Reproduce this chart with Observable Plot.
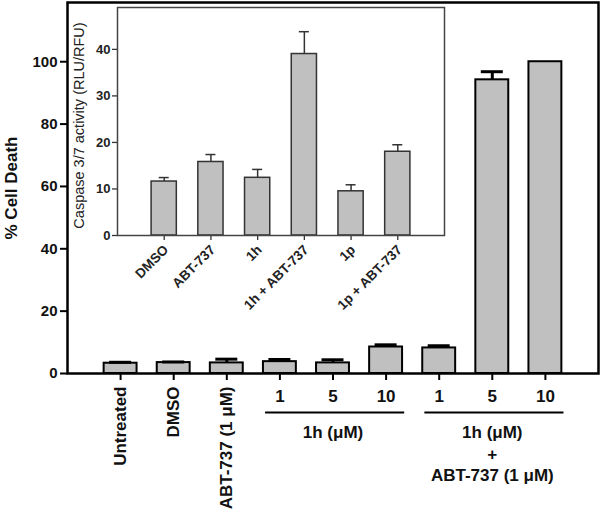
<!DOCTYPE html>
<html>
<head>
<meta charset="utf-8">
<script src="https://cdn.jsdelivr.net/npm/d3@7"></script>
<script src="https://cdn.jsdelivr.net/npm/@observablehq/plot@0.6"></script>
<style>
  body { margin: 0; background: #fff; }
  #wrap { position: relative; width: 600px; height: 516px; overflow: hidden; }
  #wrap svg { position: absolute; left: 0; top: 0; }
  .mainplot g[aria-label^="y-axis"] line, .mainplot g[aria-label^="y-axis"] path,
  .mainplot g[aria-label^="x-axis"] line, .mainplot g[aria-label^="x-axis"] path { stroke-width: 2px; stroke: #000; }
  .insetplot g[aria-label^="y-axis"] line, .insetplot g[aria-label^="y-axis"] path,
  .insetplot g[aria-label^="x-axis"] line, .insetplot g[aria-label^="x-axis"] path { stroke-width: 1.3px; stroke: #333; }
</style>
</head>
<body>
<div id="wrap"></div>
<script>
// ---- Main chart data ----
const mainCategories = ["Untreated", "DMSO", "ABT-737 (1 μM)", "1", "5", "10", "1", "5", "10"];
const mainValues = [3.3, 3.5, 3.4, 3.8, 3.4, 8.5, 8.2, 94.2, 100];
const mainErrors = [0.3, 0.2, 1.2, 0.7, 1.0, 0.7, 0.7, 2.6, 0];
const groupLabels = ["1h (μM)", "1h (μM)\n+\nABT-737 (1 μM)"];
const groupFirst = [3, 6];
const groupLast = [5, 8];
const mainYTicks = [0, 20, 40, 60, 80, 100];
const mainYLabel = "% Cell Death";

// ---- Inset data ----
const insetCategories = ["DMSO", "ABT-737", "1h", "1h + ABT-737", "1p", "1p + ABT-737"];
const insetValues = [11.6, 15.8, 12.4, 39.0, 9.5, 18.0];
const insetErrors = [0.85, 1.6, 1.8, 4.8, 1.4, 1.5];
const insetYTicks = [0, 10, 20, 30, 40];
const insetYLabel = "Caspase 3/7 activity (RLU/RFU)";

const FONT = "'Liberation Sans', Arial, Helvetica, sans-serif";

const mainData = mainCategories.map((c, i) => ({
  c, pos: i + 1, v: mainValues[i], e: mainErrors[i],
  grouped: groupFirst.some((f, g) => i >= f && i <= groupLast[g])
}));
const groups = groupLabels.map((label, g) => ({label, x1: groupFirst[g] + 1, x2: groupLast[g] + 1}));

const BW = 0.31, CAP = 0.207;
const main = Plot.plot({
  className: "mainplot",
  width: 600, height: 516,
  marginLeft: 67, marginRight: 2, marginTop: 2, marginBottom: 143,
  style: {fontFamily: FONT, fontSize: "15px", fontWeight: "bold", color: "#111", background: "transparent", overflow: "visible"},
  x: {domain: [0, mainCategories.length + 1], ticks: mainData.map(d => d.pos), tickFormat: () => "", tickSize: 7, label: null},
  y: {domain: [0, 119], ticks: mainYTicks, tickSize: 7, tickPadding: 3, label: null},
  marks: [
    Plot.rect(mainData, {x1: d => d.pos - BW, x2: d => d.pos + BW, y1: 0, y2: "v", fill: "#c0c0c0", stroke: "#000", strokeWidth: 2}),
    Plot.ruleX(mainData.filter(d => d.e > 0), {x: "pos", y1: "v", y2: d => d.v + d.e, stroke: "#000", strokeWidth: 3}),
    Plot.ruleY(mainData.filter(d => d.e > 0), {y: d => d.v + d.e, x1: d => d.pos - CAP, x2: d => d.pos + CAP, stroke: "#000", strokeWidth: 3}),
    Plot.frame({stroke: "#000", strokeWidth: 2.5}),
    Plot.text(mainData.filter(d => !d.grouped), {x: "pos", text: "c", frameAnchor: "bottom", rotate: -90, textAnchor: "end", lineAnchor: "middle", dy: 13, fontSize: 17}),
    Plot.text(mainData.filter(d => d.grouped), {x: "pos", text: "c", frameAnchor: "bottom", lineAnchor: "middle", dy: 23, fontSize: 17}),
    Plot.ruleY(groups, {y: 0, x1: d => d.x1 - 0.27, x2: d => d.x2 + 0.35, dy: 39, stroke: "#000", strokeWidth: 2}),
    Plot.text(groups, {x: d => (d.x1 + d.x2) / 2, text: "label", frameAnchor: "bottom", lineAnchor: "top", lineHeight: 1.24, dy: 50, fontSize: 17}),
    Plot.text([mainYLabel], {frameAnchor: "left", rotate: -90, textAnchor: "middle", lineAnchor: "middle", dx: -56, fontSize: 17})
  ]
});

const insetData = insetCategories.map((c, i) => ({c, pos: i + 1, v: insetValues[i], e: insetErrors[i]}));
const IBW = 0.27, ICAP = 0.107;
const inset = Plot.plot({
  className: "insetplot",
  width: 600, height: 330,
  marginLeft: 117, marginRight: 156, marginTop: 7, marginBottom: 95,
  style: {fontFamily: FONT, fontSize: "13px", fontWeight: "bold", color: "#222", background: "transparent", overflow: "visible"},
  x: {domain: [0, insetCategories.length + 1], ticks: insetData.map(d => d.pos), tickFormat: () => "", tickSize: 5, label: null},
  y: {domain: [0, 49], ticks: insetYTicks, tickSize: 5, tickPadding: 2, label: null},
  marks: [
    Plot.rect(insetData, {x1: d => d.pos - IBW, x2: d => d.pos + IBW, y1: 0, y2: "v", fill: "#c0c0c0", stroke: "#333", strokeWidth: 1.5}),
    Plot.ruleX(insetData, {x: "pos", y1: "v", y2: d => d.v + d.e, stroke: "#333", strokeWidth: 1.5}),
    Plot.ruleY(insetData, {y: d => d.v + d.e, x1: d => d.pos - ICAP, x2: d => d.pos + ICAP, stroke: "#333", strokeWidth: 1.5}),
    Plot.frame({stroke: "#444", strokeWidth: 1.5}),
    Plot.text(insetData, {x: "pos", text: "c", frameAnchor: "bottom", rotate: -45, textAnchor: "end", lineAnchor: "middle", dx: 2, dy: 12, fontSize: 13.5}),
    Plot.text([insetYLabel], {frameAnchor: "left", rotate: -90, textAnchor: "middle", lineAnchor: "middle", dx: -38, dy: 4, fontSize: 14.5, fontWeight: "normal"})
  ]
});

const wrap = document.getElementById("wrap");
wrap.appendChild(main);
wrap.appendChild(inset);
</script>
</body>
</html>
